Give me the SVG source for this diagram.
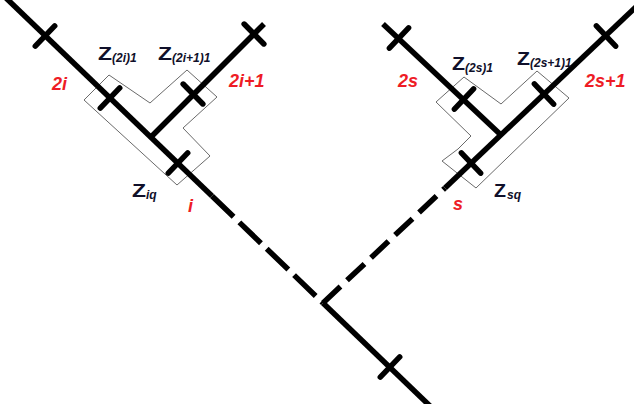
<svg xmlns="http://www.w3.org/2000/svg" width="634" height="404" viewBox="0 0 634 404">
  <style>
    .ln { stroke: #000; stroke-width: 5.5; fill: none; stroke-linecap: butt; }
    .dl { stroke: #000; stroke-width: 5.5; fill: none; stroke-dasharray: 30 8; }
    .dr { stroke: #000; stroke-width: 5.5; fill: none; stroke-dasharray: 24 9; }
    .tk { stroke: #000; stroke-width: 5.5; stroke-linecap: round; }
    .box { fill: none; stroke: #6a6a6a; stroke-width: 1; }
    .z { font-family: "Liberation Sans", Arial, sans-serif; font-weight: bold; font-size: 18px; fill: #10102a; }
    .sub { font-family: "Liberation Sans", Arial, sans-serif; font-weight: bold; font-style: italic; font-size: 12px; fill: #10102a; }
    .num { font-family: "Liberation Sans", Arial, sans-serif; font-weight: bold; font-style: italic; font-size: 18px; fill: #ee1c25; }
  </style>
  <defs>
    <line id="tk" class="tk" x1="0" y1="-14" x2="0" y2="14"/>
  </defs>
  <rect width="634" height="404" fill="#fff"/>

  <g id="boxes">
    <polygon id="box-left" class="box" points="109,75 150,103 187,70 217,97 183,128 210,156 177,185 84,100"/>
    <polygon id="box-right" class="box" points="464,77 501,104 537,71 569,98 476,188 442,161 458,149 471,136 436,102"/>
  </g>

  <g id="connectors">
    <line class="ln" x1="6" y1="-2" x2="212" y2="196"/>
    <line class="dl" x1="212" y1="196" x2="323" y2="303"/>
    <line class="ln" x1="323" y1="303" x2="430" y2="406"/>
    <line class="ln" x1="151" y1="137" x2="264" y2="24"/>
    <line class="dr" x1="323" y1="303" x2="445" y2="188"/>
    <line class="ln" x1="445" y1="188" x2="640" y2="3"/>
    <line class="ln" x1="383" y1="24" x2="502" y2="136"/>
  </g>

  <g id="ticks">
    <use href="#tk" transform="translate(45,36) rotate(43.9)"/>
    <use href="#tk" transform="translate(110,98) rotate(43.9)"/>
    <use href="#tk" transform="translate(178,163) rotate(43.9)"/>
    <use href="#tk" transform="translate(390,367) rotate(43.9)"/>
    <use href="#tk" transform="translate(193,94) rotate(-44.7)"/>
    <use href="#tk" transform="translate(254,34) rotate(-44.7)"/>
    <use href="#tk" transform="translate(471,163) rotate(-43.4)"/>
    <use href="#tk" transform="translate(544,94) rotate(-43.4)"/>
    <use href="#tk" transform="translate(606,36) rotate(-43.4)"/>
    <use href="#tk" transform="translate(399,38) rotate(43.2)"/>
    <use href="#tk" transform="translate(464,99) rotate(43.2)"/>
  </g>

  <g id="node-2i"><text class="num" x="52" y="90">2i</text></g>
  <g id="node-2i1"><text class="num" x="229" y="87">2i+1</text></g>
  <g id="node-i"><text class="num" x="188" y="212">i</text></g>
  <g id="node-2s"><text class="num" x="398" y="87">2s</text></g>
  <g id="node-2s1"><text class="num" x="585" y="87">2s+1</text></g>
  <g id="node-s"><text class="num" x="453" y="210">s</text></g>

  <g id="label-z2i1"><text class="z" x="98" y="60" textLength="14" lengthAdjust="spacingAndGlyphs">Z</text><text class="sub" x="112" y="62">(2i)1</text></g>
  <g id="label-z2i11"><text class="z" x="158" y="60" textLength="14" lengthAdjust="spacingAndGlyphs">Z</text><text class="sub" x="172" y="62">(2i+1)1</text></g>
  <g id="label-ziq"><text class="z" x="132" y="197" textLength="14" lengthAdjust="spacingAndGlyphs">Z</text><text class="sub" x="146" y="199">iq</text></g>
  <g id="label-z2s1"><text class="z" x="452" y="70" textLength="13" lengthAdjust="spacingAndGlyphs">Z</text><text class="sub" x="465" y="72">(2s)1</text></g>
  <g id="label-z2s11"><text class="z" x="517" y="65" textLength="13" lengthAdjust="spacingAndGlyphs">Z</text><text class="sub" x="530" y="67">(2s+1)1</text></g>
  <g id="label-zsq"><text class="z" x="494" y="197" textLength="12" lengthAdjust="spacingAndGlyphs">Z</text><text class="sub" x="507" y="199">sq</text></g>
</svg>
